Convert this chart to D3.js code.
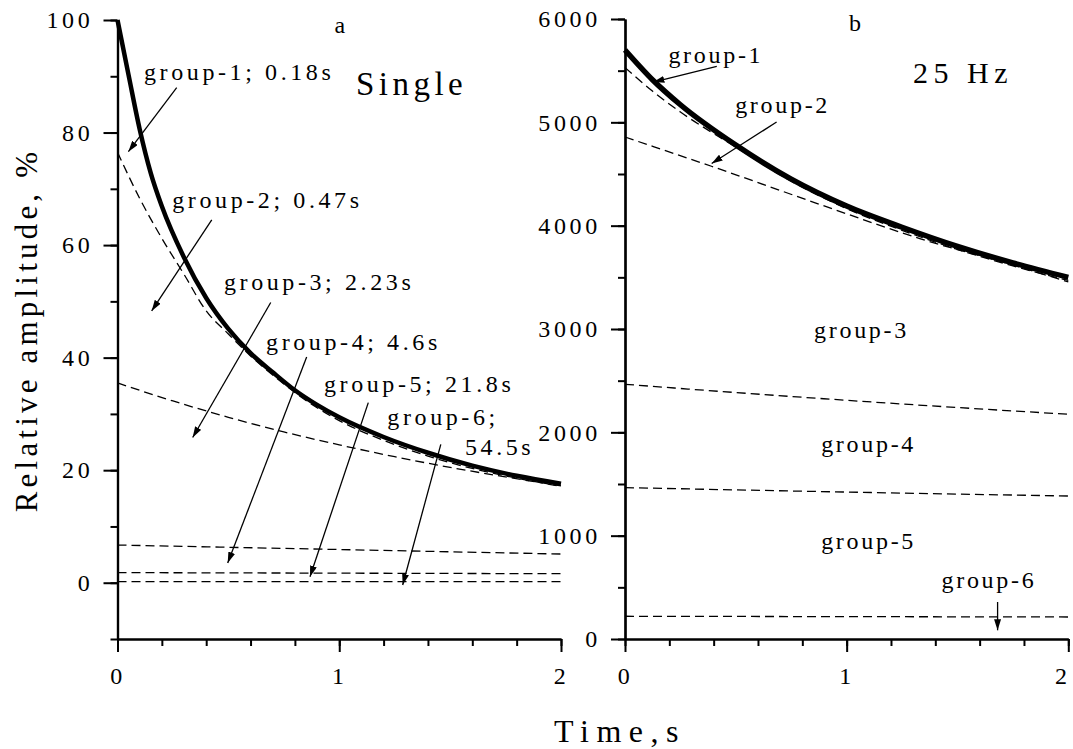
<!DOCTYPE html>
<html><head><meta charset="utf-8">
<script src="https://cdn.jsdelivr.net/npm/d3@7"></script>
<style>
body{margin:0;background:#fff}
svg{display:block}
text{font-family:"Liberation Serif","Times New Roman",serif;fill:#000}
</style>
</head><body>
<svg id="c" width="1073" height="749"></svg>
<script>
// ---------- Panel a (Single), relative amplitude in % ----------
const timeSingleA = [0,0.05,0.1,0.15,0.2,0.3,0.4,0.5,0.6,0.7,0.8,0.9,1.0,1.2,1.4,1.6,1.8,2.0];
const singleA     = [100,90.2,80.6,72.8,66.9,57.8,50.6,45.1,40.8,37.4,34.2,31.6,29.4,25.9,23.1,20.8,19.0,17.6];
const timeDashA1  = [0,0.1,0.2,0.3,0.4,0.5,0.6,0.7,0.8,0.9,1.0,1.2,1.4,1.6,1.8,2.0];
const dashA1      = [76.5,68.3,61.2,54.8,48.3,44.2,40.3,36.9,33.8,31.1,28.8,25.3,22.5,20.3,18.6,17.1];
const timeDashA2  = [0,0.25,0.5,0.75,1.0,1.25,1.5,1.75,2.0];
const dashA2      = [35.5,32.3,29.4,26.8,24.5,22.4,20.5,18.8,17.2];
const timeDashA3  = [0,0.5,1.0,1.5,2.0];
const dashA3      = [6.7,6.3,5.9,5.5,5.1];
const timeDashA4  = [0,2.0];
const dashA4      = [1.8,1.6];
const timeDashA5  = [0,2.0];
const dashA5      = [0.2,0.2];

// ---------- Panel b (25 Hz) ----------
const timeSingleB = [0,0.125,0.25,0.5,0.75,1.0,1.25,1.5,1.75,2.0];
const singleB     = [5700,5410,5170,4780,4450,4190,3985,3800,3640,3500];
const timeDashB1  = [0,0.125,0.25,0.5,0.75,1.0,1.25,1.5,1.75,2.0];
const dashB1      = [5530,5300,5100,4760,4430,4165,3955,3770,3610,3470];
const timeDashB2  = [0,0.128,0.39,0.88,1.33,1.78,2.0];
const dashB2      = [4858,4765,4575,4205,3875,3600,3455];
const timeDashB3  = [0,0.5,1.0,1.5,2.0];
const dashB3      = [2465,2385,2310,2240,2175];
const timeDashB4  = [0,1.0,2.0];
const dashB4      = [1465,1422,1384];
const timeDashB5  = [0,2.0];
const dashB5      = [220,213];

// ---------- tick values / labels ----------
const xMajorTicks = [0,1,2];
const xMinorTicks = [0,0.2,0.4,0.6,0.8,1.0,1.2,1.4,1.6,1.8,2.0];
const yMajorTicksA = [0,20,40,60,80,100];
const yMinorTicksA = [-10,0,10,20,30,40,50,60,70,80,90,100];
const yMajorTicksB = [0,1000,2000,3000,4000,5000,6000];
const yMinorTicksB = [0,500,1000,1500,2000,2500,3000,3500,4000,4500,5000,5500,6000];

// ---------- annotations (data units) ----------
const labelsA = ["group-1; 0.18s","group-2; 0.47s","group-3; 2.23s","group-4; 4.6s","group-5; 21.8s","group-6;","54.5s"];
const labelTA = [0.1195,0.247,0.480,0.670,0.931,1.217,1.567];
const labelVA = [89.3,66.6,52.1,41.4,33.9,28.0,22.7];
const arrowFromTA = [0.267,0.425,0.691,0.853,1.131,1.458];
const arrowFromVA = [88.0,64.5,49.8,40.1,32.0,24.6];
const arrowToTA   = [0.049,0.154,0.339,0.497,0.868,1.286];
const arrowToVA   = [76.6,48.3,25.8,3.5,1.07,-0.4];

const labelsB = ["group-1","group-2","group-3","group-4","group-5","group-6"];
const labelTB = [0.41,0.711,1.067,1.099,1.099,1.642];
const labelVB = [5571,5087,2910,1810,868,491];
const arrowFromTB = [0.414,0.684,1.681];
const arrowFromVB = [5542,5003,358];
const arrowToTB   = [0.128,0.391,1.681];
const arrowToVB   = [5390,4601,84];

const svg = d3.select("#c");
const defs = svg.append("defs");
defs.append("marker").attr("id","ah").attr("markerUnits","userSpaceOnUse")
  .attr("viewBox","0 0 11 7").attr("refX",11).attr("refY",3.5)
  .attr("markerWidth",11).attr("markerHeight",7).attr("orient","auto")
  .append("path").attr("d","M0,0 L11,3.5 L0,7 Z").attr("fill","#000");

const xA = d3.scaleLinear().domain([0,2]).range([117.5,561]);
const yA = d3.scaleLinear().domain([-10,100]).range([639,20]);
const xB = d3.scaleLinear().domain([0,2]).range([625,1068.3]);
const yB = d3.scaleLinear().domain([0,6000]).range([639,19]);

function styleAxis(g){
  g.selectAll("path.domain").attr("stroke","#000").attr("stroke-width",2.2);
  g.selectAll(".tick line").attr("stroke","#000").attr("stroke-width",2);
  g.selectAll("text").style("font-family","'Liberation Serif','Times New Roman',serif")
    .style("font-size","24px").style("letter-spacing","3.7px").attr("fill","#000");
  g.attr("font-family",null).attr("font-size",null);
}

function drawAxes(x,y,yMajor,yMinor){
  const y0 = y.range()[0], x0 = x.range()[0];
  svg.append("g").attr("transform",`translate(0,${y0})`)
    .call(d3.axisBottom(x).tickValues(xMinorTicks).tickSize(7).tickSizeOuter(0).tickFormat(""))
    .call(styleAxis);
  const gx = svg.append("g").attr("transform",`translate(0,${y0})`)
    .call(d3.axisBottom(x).tickValues(xMajorTicks).tickSize(13).tickSizeOuter(0).tickPadding(15).tickFormat(d3.format("d")))
    .call(styleAxis);
  svg.append("g").attr("transform",`translate(${x0},0)`)
    .call(d3.axisLeft(y).tickValues(yMinor).tickSize(7).tickSizeOuter(0).tickFormat(""))
    .call(styleAxis);
  svg.append("g").attr("transform",`translate(${x0},0)`)
    .call(d3.axisLeft(y).tickValues(yMajor).tickSize(14).tickSizeOuter(0).tickPadding(10).tickFormat(d3.format("d")))
    .call(styleAxis);
  return gx;
}

function drawSeries(x,y,ts,vs,dashed,width){
  const pts = ts.map((t,i)=>[t,vs[i]]);
  const gen = d3.line().x(d=>x(d[0])).y(d=>y(d[1])).curve(d3.curveMonotoneX);
  svg.append("path").attr("d",gen(pts)).attr("fill","none").attr("stroke","#000")
    .attr("stroke-width",width).attr("stroke-dasharray",dashed?"9,5":null);
}

// Panel a
drawSeries(xA,yA,timeDashA1,dashA1,true,1.3);
drawSeries(xA,yA,timeDashA2,dashA2,true,1.3);
drawSeries(xA,yA,timeDashA3,dashA3,true,1.3);
drawSeries(xA,yA,timeDashA4,dashA4,true,1.3);
drawSeries(xA,yA,timeDashA5,dashA5,true,1.3);
drawSeries(xA,yA,timeSingleA,singleA,false,4.5);
drawAxes(xA,yA,yMajorTicksA,yMinorTicksA);

// Panel b
drawSeries(xB,yB,timeDashB1,dashB1,true,1.3);
drawSeries(xB,yB,timeDashB2,dashB2,true,1.3);
drawSeries(xB,yB,timeDashB3,dashB3,true,1.3);
drawSeries(xB,yB,timeDashB4,dashB4,true,1.3);
drawSeries(xB,yB,timeDashB5,dashB5,true,1.3);
drawSeries(xB,yB,timeSingleB,singleB,false,5.5);
const gxB = drawAxes(xB,yB,yMajorTicksB,yMinorTicksB);
// keep the last tick label of panel b inside the window
gxB.selectAll(".tick text").filter(d=>d===2).attr("dx",-6);

// arrows
function drawArrows(x,y,ft,fv,tt,tv){
  ft.forEach((t,i)=>{
    svg.append("line").attr("x1",x(t)).attr("y1",y(fv[i])).attr("x2",x(tt[i])).attr("y2",y(tv[i]))
      .attr("stroke","#000").attr("stroke-width",1.3).attr("marker-end","url(#ah)");
  });
}
drawArrows(xA,yA,arrowFromTA,arrowFromVA,arrowToTA,arrowToVA);
drawArrows(xB,yB,arrowFromTB,arrowFromVB,arrowToTB,arrowToVB);

// labels
labelsA.forEach((s,i)=>{
  svg.append("text").attr("x",xA(labelTA[i])).attr("y",yA(labelVA[i]))
    .style("font-size","24px").style("letter-spacing","3.6px").text(s);
});
labelsB.forEach((s,i)=>{
  svg.append("text").attr("x",xB(labelTB[i])).attr("y",yB(labelVB[i])).attr("text-anchor","middle")
    .style("font-size","24px").style("letter-spacing","2.7px").text(s);
});

// panel titles
svg.append("text").attr("x",xA(1.003)).attr("y",yA(97.7)).attr("text-anchor","middle")
  .style("font-size","24px").text("a");
svg.append("text").attr("x",xB(1.038)).attr("y",yB(5881)).attr("text-anchor","middle")
  .style("font-size","24px").text("b");
svg.append("text").attr("x",xA(1.075)).attr("y",yA(86.7))
  .style("font-size","33px").style("letter-spacing","4.5px").text("Single");
svg.append("text").attr("x",xB(1.525)).attr("y",yB(5378)).attr("text-anchor","middle")
  .style("font-size","30px").style("letter-spacing","5.5px").text("25 Hz");

// axis titles
svg.append("text").attr("x",620).attr("y",742).attr("text-anchor","middle")
  .style("font-size","32px").style("letter-spacing","7.5px").text("Time,s");
svg.append("text").attr("transform","translate(37,330) rotate(-90)").attr("text-anchor","middle")
  .style("font-size","31px").style("letter-spacing","4.2px").text("Relative amplitude, %");
</script>
</body></html>
